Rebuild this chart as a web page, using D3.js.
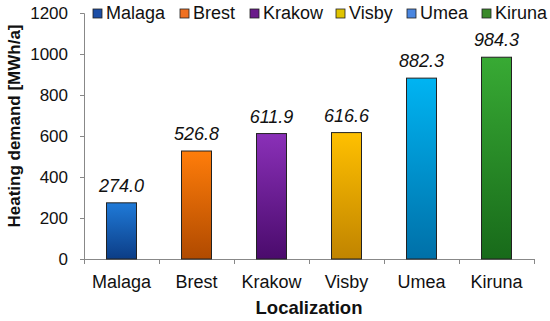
<!DOCTYPE html>
<html>
<head>
<meta charset="utf-8">
<script src="https://cdn.jsdelivr.net/npm/d3@7"></script>
<style>
  body { margin: 0; background: #fff; }
  text { font-family: "Liberation Sans", Arial, sans-serif; }
</style>
</head>
<body>
<div id="chart"></div>
<script>
// data
var cities = ["Malaga", "Brest", "Krakow", "Visby", "Umea", "Kiruna"];
var demand = [274.0, 526.8, 611.9, 616.6, 882.3, 984.3];
var yTicks = [0, 200, 400, 600, 800, 1000, 1200];
var topColors = ["#1f7ad8", "#ff7d0a", "#8a30b8", "#ffc000", "#00b4f2", "#38aa34"];
var bottomColors = ["#0c3d86", "#b04a00", "#4a0b6c", "#c08400", "#0070a8", "#186a1a"];
var legendColors = ["#1c4ea6", "#f07020", "#6a1a8a", "#e0c400", "#4a86e0", "#3a8a2a"];

var svgWidth = 550;
var svgHeight = 321;
var margin = { top: 13, right: 16, bottom: 62, left: 84 };
var width = svgWidth - margin.left - margin.right;
var height = svgHeight - margin.top - margin.bottom;

var svg = d3.select("#chart")
    .append("svg")
    .attr("width", svgWidth)
    .attr("height", svgHeight);

// gradients for bars
var defs = svg.append("defs");
cities.forEach(function (c, i) {
    var g = defs.append("linearGradient")
        .attr("id", "grad" + i)
        .attr("x1", 0).attr("y1", 0).attr("x2", 0).attr("y2", 1);
    g.append("stop").attr("offset", "0%").attr("stop-color", topColors[i]);
    g.append("stop").attr("offset", "100%").attr("stop-color", bottomColors[i]);
});

var chartGroup = svg.append("g")
    .attr("transform", `translate(${margin.left}, ${margin.top})`);

var xScale = d3.scaleBand()
    .domain(cities)
    .range([0, width])
    .paddingInner(0.6)
    .paddingOuter(0.3);

var xBand = d3.scalePoint()
    .domain(d3.range(cities.length + 1))
    .range([0, width]);

var yScale = d3.scaleLinear()
    .domain([0, 1200])
    .range([height, 0]);

// y axis
var leftAxis = d3.axisLeft(yScale).tickValues(yTicks).tickFormat(d3.format("d")).tickSize(4).tickPadding(12);
var yAxisG = chartGroup.append("g").call(leftAxis);
yAxisG.select(".domain").attr("stroke", "#888").attr("d", `M-4,0.5H0.5V${height}`);
yAxisG.selectAll(".tick line").attr("stroke", "#888");
yAxisG.selectAll("text").attr("font-size", "17px").attr("fill", "#111").attr("dy", "0.35em");

// x axis with category boundary ticks
var xAxisG = chartGroup.append("g").attr("transform", `translate(0, ${height})`);
xAxisG.append("line")
    .attr("x1", 0).attr("x2", width)
    .attr("y1", 0.5).attr("y2", 0.5)
    .attr("stroke", "#888");
xAxisG.selectAll(".bt")
    .data(d3.range(cities.length + 1))
    .enter()
    .append("line")
    .attr("x1", d => xBand(d) + 0.5).attr("x2", d => xBand(d) + 0.5)
    .attr("y1", 0).attr("y2", 5)
    .attr("stroke", "#888");
xAxisG.selectAll(".xl")
    .data(cities)
    .enter()
    .append("text")
    .attr("x", d => xScale(d) + xScale.bandwidth() / 2)
    .attr("y", 29)
    .attr("text-anchor", "middle")
    .attr("font-size", "18px")
    .attr("fill", "#111")
    .text(d => d);

// bars
chartGroup.selectAll(".bar")
    .data(cities)
    .enter()
    .append("rect")
    .attr("x", d => xScale(d))
    .attr("y", (d, i) => yScale(demand[i]))
    .attr("width", xScale.bandwidth())
    .attr("height", (d, i) => height - yScale(demand[i]))
    .attr("fill", (d, i) => `url(#grad${i})`)
    .attr("stroke", "#222")
    .attr("stroke-width", 1);

// value labels
chartGroup.selectAll(".val")
    .data(cities)
    .enter()
    .append("text")
    .attr("x", d => xScale(d) + xScale.bandwidth() / 2)
    .attr("y", (d, i) => yScale(demand[i]) - 11)
    .attr("text-anchor", "middle")
    .attr("font-size", "18px")
    .attr("font-style", "italic")
    .attr("fill", "#111")
    .text((d, i) => demand[i].toFixed(1));

// axis titles
svg.append("text")
    .attr("transform", `translate(20, 126) rotate(-90)`)
    .attr("text-anchor", "middle")
    .attr("font-size", "17px")
    .attr("font-weight", "bold")
    .attr("fill", "#111")
    .text("Heating demand [MWh/a]");

svg.append("text")
    .attr("x", 309)
    .attr("y", 314)
    .attr("text-anchor", "middle")
    .attr("font-size", "18.5px")
    .attr("font-weight", "bold")
    .attr("fill", "#111")
    .text("Localization");

// legend
var legendX = [93, 180, 250, 336, 407, 482];
var legend = svg.selectAll(".leg")
    .data(cities)
    .enter()
    .append("g")
    .attr("transform", (d, i) => `translate(${legendX[i]}, 9)`);
legend.append("rect")
    .attr("width", 9).attr("height", 9)
    .attr("fill", (d, i) => legendColors[i])
    .attr("stroke", "#222")
    .attr("stroke-width", 0.8);
legend.append("text")
    .attr("x", 13)
    .attr("y", 9.5)
    .attr("font-size", "18px")
    .attr("fill", "#111")
    .text(d => d);
</script>
</body>
</html>
